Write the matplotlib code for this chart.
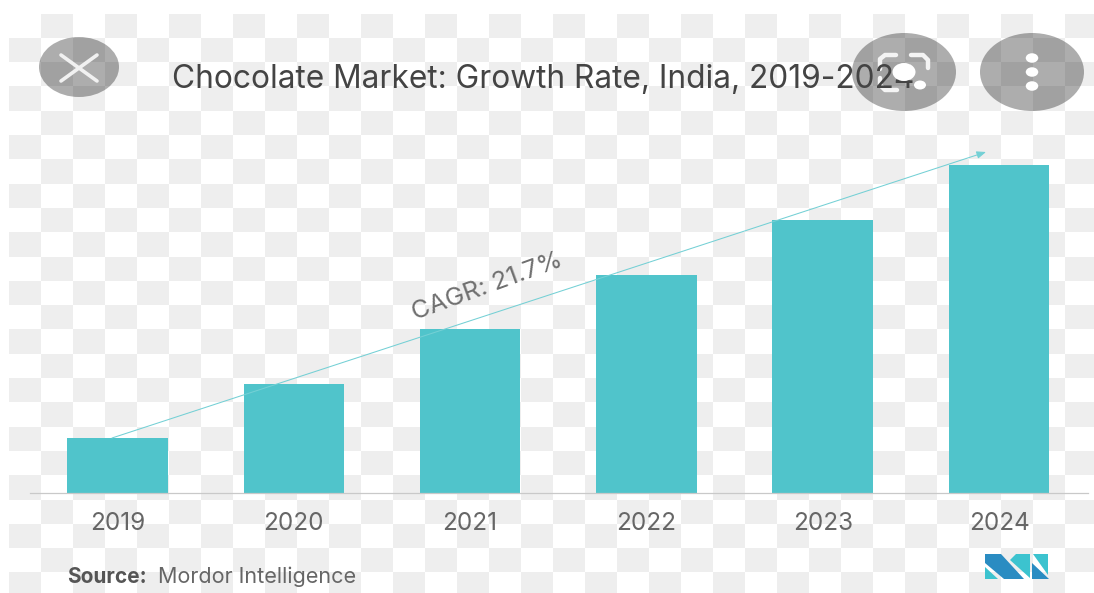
import matplotlib
matplotlib.use("Agg")
import matplotlib.pyplot as plt
from matplotlib.patches import Ellipse, Polygon, Rectangle

WIDTH, HEIGHT = 1094, 593

years = ["2019", "2020", "2021", "2022", "2023", "2024"]
market_index = [1, 2, 3, 4, 5, 6]
title_text = "Chocolate Market: Growth Rate, India, 2019-2024"
cagr_text = "CAGR: 21.7%"

TEAL = "#50c4cb"
TREND = "#74d0d5"
BLUE = "#2a8cc2"
LOGO_TEAL = "#3cc3cf"
CELL_GREY = "#eeeeee"
FONT = "Inter"

fig = plt.figure(figsize=(WIDTH / 100, HEIGHT / 100), dpi=100, facecolor="white")

# Pixel-space layer for the backdrop and overlay furniture
bg = fig.add_axes([0, 0, 1, 1], zorder=0)
bg.set_xlim(0, WIDTH)
bg.set_ylim(HEIGHT, 0)
bg.axis("off")

col_w, row_h = 32, 24.3
for r in range(24):
    for c in range(34):
        if (r + c) % 2 == 1:
            y0 = 13.5 + r * row_h
            x0 = 9 + c * col_w
            bg.add_patch(Rectangle((x0, y0), col_w, row_h, fc=CELL_GREY, ec="none"))

# Bar chart, scaled so one index unit is 54.6 px above the baseline
ax = fig.add_axes([30 / WIDTH, (HEIGHT - 493) / HEIGHT, 1058 / WIDTH, 360 / HEIGHT], zorder=1)
ax.patch.set_alpha(0)
positions = list(range(len(years)))
ax.bar(positions, market_index, width=0.57, color=TEAL)
ax.set_xlim((30 - 117.5) / 176.3, (1088 - 117.5) / 176.3)
ax.set_ylim(0, 360 / 54.6)
ax.set_xticks(positions, years)
ax.set_yticks([])
ax.tick_params(axis="x", length=0, pad=14, labelsize=17.5, labelcolor="#666666")
for label in ax.get_xticklabels():
    label.set_family(FONT)
for side in ("top", "left", "right"):
    ax.spines[side].set_visible(False)
ax.spines["bottom"].set_color("#c9c9c9")
ax.spines["bottom"].set_linewidth(0.9)

# Overlay layer: trend arrow, captions, logo and viewer buttons
top = fig.add_axes([0, 0, 1, 1], zorder=2)
top.set_xlim(0, WIDTH)
top.set_ylim(HEIGHT, 0)
top.axis("off")
top.patch.set_alpha(0)

top.annotate("", xy=(986, 152), xytext=(112, 438),
             arrowprops=dict(arrowstyle="-|>,head_length=0.55,head_width=0.22",
                             color=TREND, lw=0.75, shrinkA=0, shrinkB=0))
top.text(487, 287, cagr_text, rotation=20, rotation_mode="anchor",
         ha="center", va="center", fontsize=18.3, color="#6f6f6f", family=FONT)

for center, rx, ry in [((79, 67), 40, 30), ((904, 72), 52, 39), ((1032, 72), 52, 39)]:
    top.add_patch(Ellipse(center, 2 * rx, 2 * ry, fc="#000000", alpha=0.32, ec="none"))

top.text(172, 79, title_text, ha="left", va="center", fontsize=22.8, color="#444444", family=FONT)

# Close button
top.plot([61, 97], [55, 81], color="#f1f1f1", lw=2.6, solid_capstyle="round")
top.plot([97, 61], [55, 81], color="#f1f1f1", lw=2.6, solid_capstyle="round")

# Lens button: its shutter dots sit above the title, hiding the last digit
bracket = dict(color="#f4f4f4", lw=3.2, solid_capstyle="round", solid_joinstyle="round")
top.plot([880, 880, 885, 896], [69, 59, 55, 55], **bracket)
top.plot([880, 880, 885, 897], [78, 85, 90, 90], **bracket)
top.plot([911, 923, 928, 928], [55, 55, 60, 68], **bracket)
top.add_patch(Ellipse((904, 72), 23, 18, fc="white", ec="none", zorder=4))
top.add_patch(Ellipse((920, 85), 12, 9, fc="white", ec="none", zorder=4))

# Overflow menu button
for cy in (58, 72, 86):
    top.add_patch(Ellipse((1032, cy), 12.5, 9.5, fc="white", ec="none"))

# Source line
top.text(67, 577, "Source:", ha="left", va="center", fontsize=15, color="#555555",
         family=FONT, fontweight="bold")
top.text(158, 577, "Mordor Intelligence", ha="left", va="center", fontsize=15.5,
         color="#666666", family=FONT)

# Logo
top.add_patch(Polygon([(985, 554), (1001, 554), (1024, 579), (1004, 579), (985, 563)], fc=BLUE, ec="none"))
top.add_patch(Polygon([(985, 567), (985, 579), (998, 579)], fc=LOGO_TEAL, ec="none"))
top.add_patch(Polygon([(1016, 554), (1030, 554), (1030, 578), (1010, 560)], fc=LOGO_TEAL, ec="none"))
top.add_patch(Polygon([(1032, 563), (1032, 579), (1049, 579)], fc=BLUE, ec="none"))
top.add_patch(Polygon([(1033, 554), (1048, 554), (1048, 575)], fc=LOGO_TEAL, ec="none"))

fig.savefig("out.png", dpi=100, facecolor="white")
